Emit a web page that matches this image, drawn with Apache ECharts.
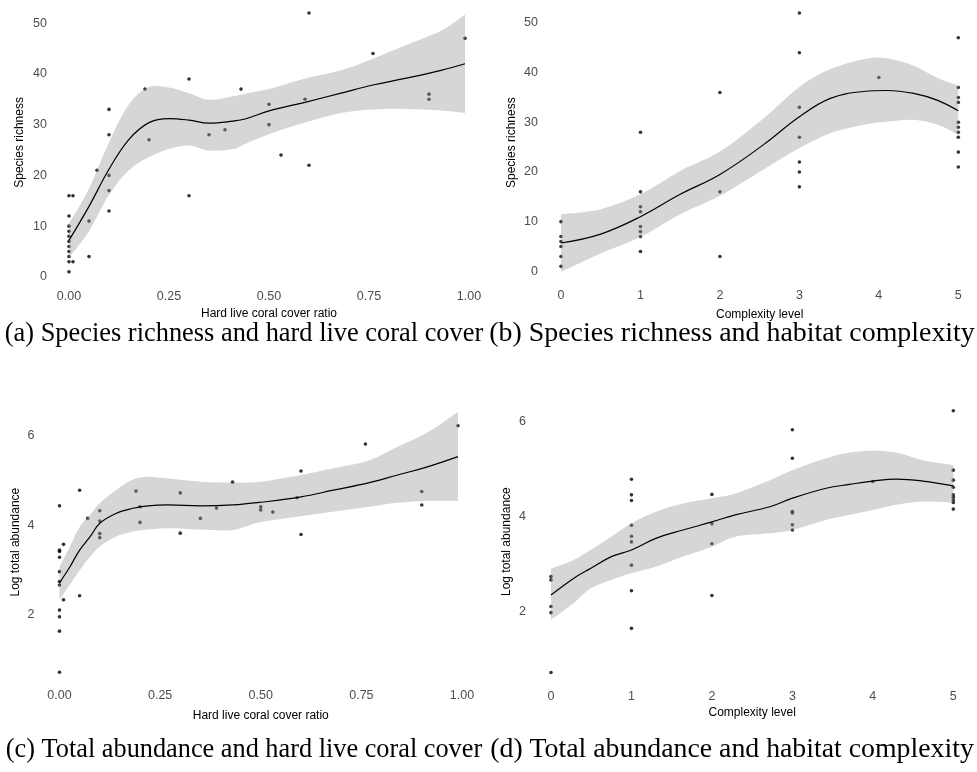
<!DOCTYPE html>
<html>
<head>
<meta charset="utf-8">
<script src="https://cdn.jsdelivr.net/npm/echarts@6/dist/echarts.min.js"></script>
<style>
  html, body { margin: 0; padding: 0; background: #fff; }
  #chart { width: 977px; height: 772px; }
</style>
</head>
<body>
<div id="chart"></div>
<script>
// ---- (a) species richness vs hard live coral cover ratio ----
const coverRichX = [0,0,0,0,0,0,0,0,0,0,0, 0.01,0.01, 0.05,0.05, 0.07, 0.1,0.1,0.1,0.1,0.1, 0.19, 0.2, 0.3,0.3, 0.35, 0.39, 0.43, 0.5,0.5, 0.53, 0.59, 0.6,0.6, 0.76, 0.9,0.9, 0.99];
const coverRichY = [16,12,10,9,8,7,6,5,4,3,1, 16,3, 11,4, 21, 33,28,20,17,13, 37, 27, 39,16, 28, 29, 37, 34,30, 24, 35, 52,22, 44, 36,35, 47];
const coverRichFitX = [0, 0.05, 0.1, 0.15, 0.2, 0.25, 0.3, 0.35, 0.41, 0.44, 0.5, 0.59, 0.68, 0.76, 0.84, 0.93, 0.99];
const coverRichFit  = [7.2, 13.9, 21.2, 27.1, 30.4, 31.2, 30.9, 30.3, 30.7, 31.1, 32.7, 34.4, 36.2, 37.8, 39.1, 40.7, 42.0];
const coverRichHi   = [10.5, 17.4, 26.5, 34.0, 37.4, 37.3, 36.2, 34.9, 35.6, 36.1, 37.0, 39.1, 40.7, 43.0, 45.6, 48.5, 51.7];
const coverRichLo   = [3.8, 9.0, 16.2, 21.0, 23.6, 25.2, 25.9, 24.9, 25.2, 26.2, 28.1, 30.4, 32.3, 33.0, 33.1, 32.8, 32.3];

// ---- (b) species richness vs complexity level ----
const cplxRichX = [0,0,0,0,0,0, 1,1,1,1,1,1,1,1, 2,2,2, 3,3,3,3,3,3,3, 4, 5,5,5,5,5,5,5,5,5,5];
const cplxRichY = [10,7,6,5,3,1, 28,16,13,12,9,8,7,4, 36,16,3, 52,44,33,27,22,20,17, 39, 47,37,35,34,30,29,28,27,24,21];
const cplxRichFitX = [0, 0.5, 1, 1.5, 2, 2.55, 3, 3.39, 3.81, 4.1, 4.44, 4.74, 5];
const cplxRichFit  = [5.7, 7.5, 11.0, 15.5, 19.5, 25.5, 31.1, 34.8, 36.2, 36.4, 35.8, 34.4, 32.3];
const cplxRichHi   = [11.5, 12.5, 15.5, 20.2, 24.1, 30.8, 37.1, 40.7, 42.7, 42.9, 41.4, 38.9, 37.4];
const cplxRichLo   = [-0.1, 3.6, 6.9, 11.5, 15.2, 20.5, 24.8, 27.8, 29.5, 30.1, 30.5, 29.5, 27.5];

// ---- (c) log total abundance vs hard live coral cover ratio ----
const coverAbunX = [0,0,0,0,0,0,0,0,0,0,0, 0.01,0.01, 0.05,0.05, 0.07, 0.1,0.1,0.1,0.1, 0.19, 0.2,0.2, 0.3,0.3, 0.35, 0.39, 0.43, 0.5,0.5, 0.53, 0.59, 0.6,0.6, 0.76, 0.9,0.9, 0.99];
const coverAbunY = [4.44,3.45,3.42,3.29,2.97,2.75,2.67,2.11,1.96,1.64,0.72, 3.58,2.34, 4.79,2.43, 4.16, 4.33,4.10,3.82,3.73, 4.77, 4.42,4.07, 4.73,3.83, 4.16, 4.39, 4.97, 4.42,4.35, 4.30, 4.62, 5.22,3.80, 5.82, 4.76,4.46, 6.23];
const coverAbunFitX = [0, 0.026, 0.05, 0.076, 0.1, 0.14, 0.18, 0.22, 0.27, 0.35, 0.43, 0.5, 0.6, 0.68, 0.77, 0.84, 0.91, 0.99];
const coverAbunFit  = [2.72, 3.08, 3.45, 3.75, 4.05, 4.27, 4.38, 4.44, 4.46, 4.44, 4.46, 4.52, 4.64, 4.79, 4.96, 5.13, 5.30, 5.54];
const coverAbunHi   = [3.08, 3.54, 3.97, 4.24, 4.50, 4.79, 5.02, 5.09, 5.05, 4.98, 4.96, 4.98, 5.13, 5.28, 5.46, 5.76, 6.06, 6.54];
const coverAbunLo   = [2.34, 2.68, 3.00, 3.30, 3.53, 3.75, 3.86, 3.91, 3.94, 3.91, 3.90, 4.08, 4.21, 4.31, 4.42, 4.51, 4.55, 4.55];

// ---- (d) log total abundance vs complexity level ----
const cplxAbunX = [0,0,0,0,0, 1,1,1,1,1,1,1,1,1, 2,2,2,2, 3,3,3,3,3,3, 4, 5,5,5,5,5,5,5,5,5];
const cplxAbunY = [2.74,2.67,2.11,1.98,0.72, 4.79,4.46,4.34,3.82,3.59,3.47,2.98,2.44,1.65, 4.47,3.85,3.43,2.34, 5.83,5.23,4.11,4.08,3.83,3.72, 4.74, 6.23,4.98,4.77,4.62,4.46,4.41,4.35,4.30,4.16];
const cplxAbunFitX = [0, 0.28, 0.49, 0.75, 1, 1.31, 1.64, 2, 2.29, 2.72, 3, 3.42, 3.71, 4, 4.29, 4.62, 5];
const cplxAbunFit  = [2.35, 2.70, 2.91, 3.16, 3.30, 3.55, 3.72, 3.89, 4.04, 4.21, 4.39, 4.60, 4.68, 4.75, 4.79, 4.75, 4.65];
const cplxAbunHi   = [2.91, 3.09, 3.30, 3.58, 3.86, 4.11, 4.28, 4.39, 4.49, 4.77, 4.98, 5.23, 5.35, 5.39, 5.35, 5.19, 5.09];
const cplxAbunLo   = [1.83, 2.18, 2.49, 2.67, 2.81, 2.95, 3.16, 3.37, 3.58, 3.65, 3.72, 3.93, 4.04, 4.14, 4.25, 4.32, 4.30];

// ---- axis titles and captions ----
const xTitles = ['Hard live coral cover ratio', 'Complexity level', 'Hard live coral cover ratio', 'Complexity level'];
const yTitles = ['Species richness', 'Species richness', 'Log total abundance', 'Log total abundance'];
const captions = [
  '(a) Species richness and hard live coral cover',
  '(b) Species richness and habitat complexity',
  '(c) Total abundance and hard live coral cover',
  '(d) Total abundance and habitat complexity'
];

const SANS = '"Liberation Sans", Arial, sans-serif';
const SERIF = '"Liberation Serif", "Times New Roman", serif';
const W = 977, H = 772;

// panel layout: pixel box of the x range [xMin, xMax] and of the padded y range
const panels = [
  { x: coverRichX, y: coverRichY, fx: coverRichFitX, fit: coverRichFit, hi: coverRichHi, lo: coverRichLo,
    left: 69, right: 469, top: -3.0, bottom: 284.8, xMin: 0, xMax: 1, xStep: 0.25, xDec: 2,
    yMin: -1.55, yMax: 54.55, yStep: 10, yMargin: 22, yLabelPad: 4, xMargin: 5, xGap: 23, yGap: 43 },
  { x: cplxRichX, y: cplxRichY, fx: cplxRichFitX, fit: cplxRichFit, hi: cplxRichHi, lo: cplxRichLo,
    left: 561, right: 958.3, top: -2.9, bottom: 285.3, xMin: 0, xMax: 5, xStep: 1, xDec: 0,
    yMin: -2.81, yMax: 54.61, yStep: 10, yMargin: 23, yLabelPad: 1, xMargin: 4, xGap: 23, yGap: 43.5 },
  { x: coverAbunX, y: coverAbunY, fx: coverAbunFitX, fit: coverAbunFit, hi: coverAbunHi, lo: coverAbunLo,
    left: 59.5, right: 462, top: 398.9, bottom: 685.3, xMin: 0, xMax: 1, xStep: 0.25, xDec: 2,
    yMin: 0.43, yMax: 6.83, yStep: 2, yMargin: 25, yLabelPad: 0, xMargin: 4, xGap: 24, yGap: 38 },
  { x: cplxAbunX, y: cplxAbunY, fx: cplxAbunFitX, fit: cplxAbunFit, hi: cplxAbunHi, lo: cplxAbunLo,
    left: 551, right: 953.3, top: 397.7, bottom: 685.6, xMin: 0, xMax: 5, xStep: 1, xDec: 0,
    yMin: 0.4445, yMax: 6.5055, yStep: 2, yMargin: 25, yLabelPad: 0, xMargin: 4, xGap: 21.5, yGap: 38 }
];

// Catmull-Rom segments through screen points, as cubic bezier path commands
function splineCmds(p) {
  let s = '';
  for (let i = 0; i < p.length - 1; i++) {
    const p0 = p[Math.max(i - 1, 0)], p1 = p[i], p2 = p[i + 1], p3 = p[Math.min(i + 2, p.length - 1)];
    const c1x = p1[0] + (p2[0] - p0[0]) / 6, c1y = p1[1] + (p2[1] - p0[1]) / 6;
    const c2x = p2[0] - (p3[0] - p1[0]) / 6, c2y = p2[1] - (p3[1] - p1[1]) / 6;
    s += ' C' + c1x + ' ' + c1y + ' ' + c2x + ' ' + c2y + ' ' + p2[0] + ' ' + p2[1];
  }
  return s;
}

function bandRenderer(pn) {
  return function (params, api) {
    if (params.dataIndex !== 0) return null;
    const up = pn.fx.map((x, i) => api.coord([x, pn.hi[i]]));
    const dn = pn.fx.map((x, i) => api.coord([x, pn.lo[i]])).reverse();
    const d = 'M' + up[0][0] + ' ' + up[0][1] + splineCmds(up) +
              ' L' + dn[0][0] + ' ' + dn[0][1] + splineCmds(dn) + ' Z';
    return { type: 'path', shape: { pathData: d }, style: { fill: 'rgba(153,153,153,0.4)' } };
  };
}

const grid = [], xAxis = [], yAxis = [], series = [];
panels.forEach((pn, i) => {
  grid.push({ left: pn.left, width: pn.right - pn.left, top: pn.top, height: pn.bottom - pn.top, containLabel: false });
  xAxis.push({
    type: 'value', gridIndex: i, min: pn.xMin, max: pn.xMax, interval: pn.xStep,
    axisLine: { show: false }, axisTick: { show: false }, splitLine: { show: false },
    axisLabel: { color: '#4d4d4d', fontFamily: SANS, fontSize: 12.5, margin: pn.xMargin,
                 formatter: v => v.toFixed(pn.xDec) },
    name: xTitles[i], nameLocation: 'middle', nameGap: pn.xGap,
    nameTextStyle: { color: '#000', fontFamily: SANS, fontSize: 12 }
  });
  yAxis.push({
    type: 'value', gridIndex: i, min: pn.yMin, max: pn.yMax,
    axisLine: { show: false }, axisTick: { show: false }, splitLine: { show: false },
    axisLabel: { color: '#4d4d4d', fontFamily: SANS, fontSize: 12.5, margin: pn.yMargin,
                 padding: [pn.yLabelPad, 0, 0, 0],
                 formatter: v => {
                   const k = v / pn.yStep;
                   return Math.abs(k - Math.round(k)) < 1e-6 ? String(Math.round(k) * pn.yStep) : '';
                 } },
    name: yTitles[i], nameLocation: 'middle', nameGap: pn.yGap,
    nameTextStyle: { color: '#000', fontFamily: SANS, fontSize: 12 }
  });
  series.push({
    type: 'scatter', xAxisIndex: i, yAxisIndex: i, z: 2, clip: false,
    symbol: 'circle', symbolSize: 3.6, itemStyle: { color: '#000' },
    data: pn.x.map((x, k) => [x, pn.y[k]]), silent: true
  });
  series.push({
    type: 'custom', xAxisIndex: i, yAxisIndex: i, z: 3, silent: true,
    data: [[pn.fx[0], pn.lo[0]]], encode: { x: 0, y: 1 },
    renderItem: bandRenderer(pn)
  });
  series.push({
    type: 'line', xAxisIndex: i, yAxisIndex: i, z: 4, silent: true,
    symbol: 'none', smooth: 0.4, lineStyle: { color: '#000', width: 1.2 },
    data: pn.fx.map((x, k) => [x, pn.fit[k]])
  });
});

// subfigure captions
const capPos = [[244, 334], [732, 334], [244, 750], [732, 750]];
const capSize = [26.4, 27.9, 26.3, 27.8];
const graphic = captions.map((t, i) => ({
  type: 'text', x: capPos[i][0], y: capPos[i][1], silent: true,
  style: { text: t, fontFamily: SERIF, fontSize: capSize[i], fill: '#000', align: 'center', verticalAlign: 'middle' }
}));

const chart = echarts.init(document.getElementById('chart'), null, { renderer: 'canvas', width: W, height: H });
chart.setOption({
  backgroundColor: '#fff',
  animation: false,
  grid, xAxis, yAxis, series, graphic
});
</script>
</body>
</html>
